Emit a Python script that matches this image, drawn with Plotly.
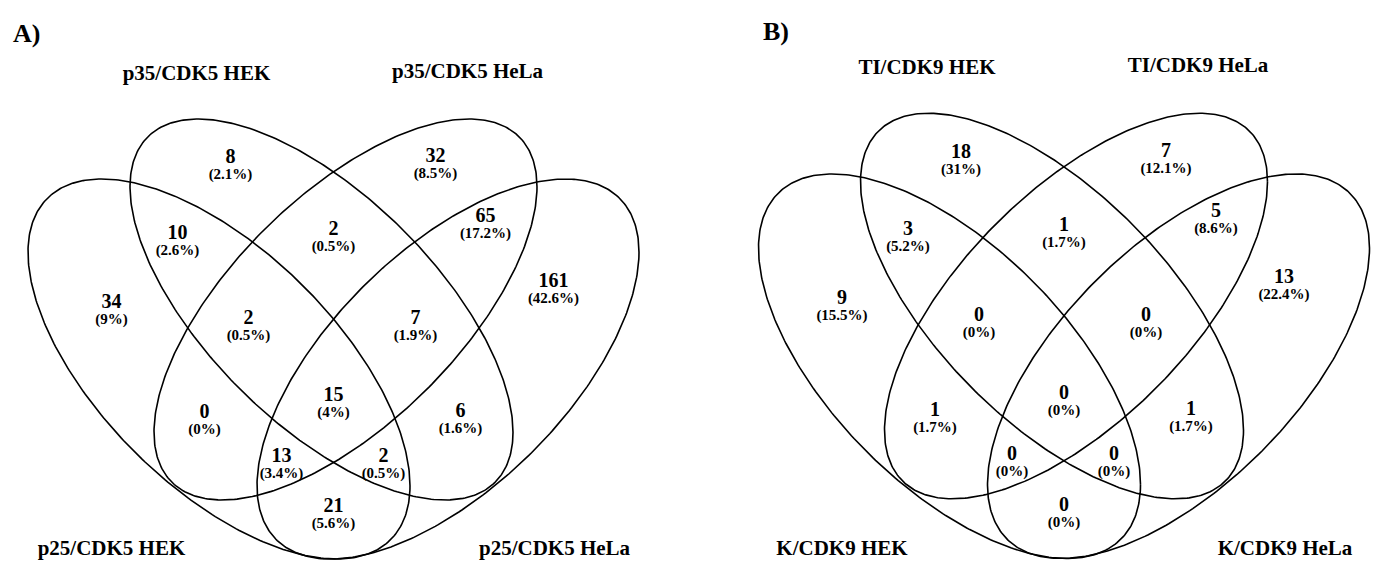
import numpy as np
import plotly.graph_objects as go

# ---- data -------------------------------------------------------------
# set names, in order: left outer, left inner, right inner, right outer
sets_a = ["p25/CDK5 HEK", "p35/CDK5 HEK", "p35/CDK5 HeLa", "p25/CDK5 HeLa"]
sets_b = ["K/CDK9 HEK", "TI/CDK9 HEK", "TI/CDK9 HeLa", "K/CDK9 HeLa"]

# regions keyed by membership in (outer-left, inner-left, inner-right, outer-right)
regions = ["0100", "0010", "1100", "0110", "0011", "1000", "1110", "0111",
           "0001", "1111", "1010", "0101", "1011", "1101", "1001"]
counts_a = [8, 32, 10, 2, 65, 34, 2, 7, 161, 15, 0, 6, 13, 2, 21]
counts_b = [18, 7, 3, 1, 5, 9, 0, 0, 13, 0, 1, 1, 0, 0, 0]

# ---- layout of the four-ellipse diagram (diagram units) -------------------
# centre u, centre v, half-width, half-height, covariance term
ellipses = [(-114.5, 190.0, 191.0, 190.0, -22300.0),
            (-12.0, 249.5, 191.5, 190.5, -23500.0),
            (12.0, 249.5, 191.5, 190.5, 23500.0),
            (114.5, 190.0, 191.0, 190.0, 22300.0)]
label_pos = {"0100": (-103, 401), "0010": (102, 402), "1100": (-156, 325),
             "0110": (0, 329), "0011": (152, 342), "1000": (-222, 256),
             "1110": (-85, 240), "0111": (82, 240), "0001": (220, 277),
             "1111": (0, 163), "1010": (-129, 146), "0101": (127, 147),
             "1011": (-52, 102), "1101": (50, 102), "1001": (0, 52)}
set_pos = [(-222, 9), (-137, 484), (134, 486), (221, 9)]
PCT_DROP = 17
FONT = "Liberation Serif"


def ellipse_xy(cu, cv, w, h, c, n=400):
    t = np.linspace(0, 2 * np.pi, n)
    k = c / w
    s = np.sqrt(h * h - k * k)
    return cu + w * np.cos(t), cv + k * np.cos(t) + s * np.sin(t)


def pct_text(n, total):
    p = round(100.0 * n / total, 1)
    return f"<b>({p:g}%)</b>"


fig = go.Figure()
for names, counts, xa, ya in [(sets_a, counts_a, "x", "y"),
                              (sets_b, counts_b, "x2", "y2")]:
    total = sum(counts)
    for cu, cv, w, h, c in ellipses:
        ex, ey = ellipse_xy(cu, cv, w, h, c)
        fig.add_trace(go.Scatter(x=ex, y=ey, mode="lines", xaxis=xa, yaxis=ya,
                                 line=dict(color="black", width=1.6),
                                 hoverinfo="skip"))
    px = [label_pos[r][0] for r in regions]
    py = [label_pos[r][1] for r in regions]
    fig.add_trace(go.Scatter(
        x=px, y=py, mode="text", xaxis=xa, yaxis=ya,
        text=[f"<b>{n}</b>" for n in counts],
        textfont=dict(family=FONT, size=20, color="black")))
    fig.add_trace(go.Scatter(
        x=px, y=[v - PCT_DROP for v in py], mode="text", xaxis=xa, yaxis=ya,
        text=[pct_text(n, total) for n in counts],
        textfont=dict(family=FONT, size=15, color="black")))
    fig.add_trace(go.Scatter(
        x=[p[0] for p in set_pos], y=[p[1] for p in set_pos], mode="text",
        xaxis=xa, yaxis=ya, text=[f"<b>{s}</b>" for s in names],
        textfont=dict(family=FONT, size=21, color="black")))

hidden = dict(visible=False, showgrid=False, zeroline=False, fixedrange=True)
fig.update_layout(
    width=1378, height=561, margin=dict(l=0, r=0, t=0, b=0),
    paper_bgcolor="white", plot_bgcolor="white", showlegend=False,
    xaxis=dict(domain=[0, 0.5], range=[-333.5, 355.5], **hidden),
    yaxis=dict(domain=[0, 1], range=[-2, 559], **hidden),
    xaxis2=dict(domain=[0.5, 1], range=[-375, 314], **hidden),
    yaxis2=dict(domain=[0, 1], range=[-2.47, 551.9], anchor="x2", **hidden),
    # panel tags
    annotations=[
        dict(text="<b>A)</b>", x=11 / 1378, y=1 - 34 / 561, xref="paper",
             yref="paper", xanchor="left", yanchor="middle", showarrow=False,
             font=dict(family=FONT, size=26, color="black")),
        dict(text="<b>B)</b>", x=761 / 1378, y=1 - 32 / 561, xref="paper",
             yref="paper", xanchor="left", yanchor="middle", showarrow=False,
             font=dict(family=FONT, size=26, color="black")),
    ],
)
fig.write_html("out.html")
